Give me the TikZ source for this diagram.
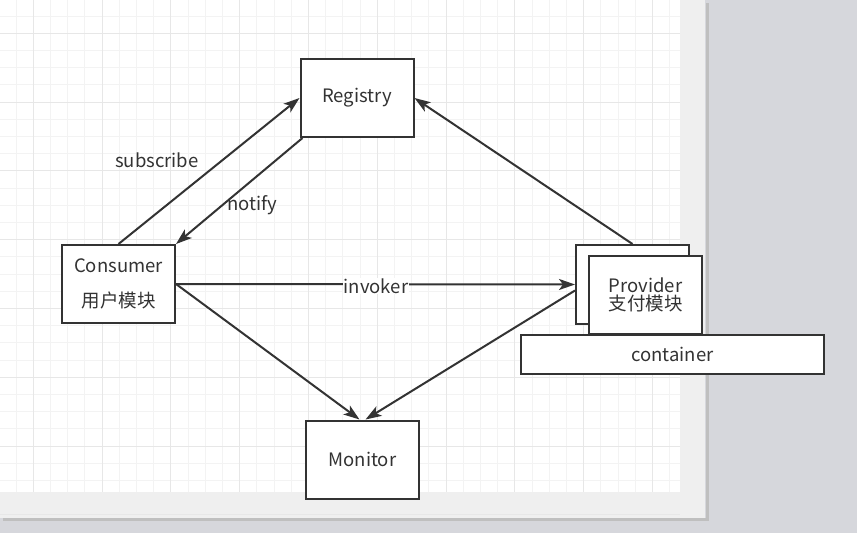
\documentclass[tikz,border=0pt]{standalone}
\usepackage{fontspec}
\setmainfont{Noto Sans CJK SC}
\usetikzlibrary{arrows.meta}

\definecolor{desk}{HTML}{D6D7DC}
\definecolor{rim}{HTML}{EFEFEF}
\definecolor{gridminor}{HTML}{F3F3F3}
\definecolor{gridmajor}{HTML}{E7E7E7}
\definecolor{ink}{HTML}{333333}

\tikzset{
  box/.style={draw=ink, line width=2pt, fill=white, text=ink,
    minimum width=113pt, minimum height=78pt, inner sep=0pt,
    font=\fontsize{18.5}{18}\selectfont, align=center},
  flow/.style={draw=ink, line width=2pt,
    -{Stealth[length=16pt,width=11pt,inset=4pt]}},
  tag/.style={text=ink, font=\fontsize{18.5}{18}\selectfont, inner sep=1pt}
}

\begin{document}
\begin{tikzpicture}[x=1pt,y=-1pt]
		\useasboundingbox (0,0) rectangle (857,533);
		% desk, page and grid
		\fill[desk] (0,0) rectangle (857,533);
		\fill[black!25] (706,3) rectangle (709,521);
		\fill[black!25] (3,518) rectangle (709,521);
		\fill[rim] (-5,-5) rectangle (705,518);
		\fill[white] (0,0) rectangle (680,492);
		\foreach \k in {0,...,39} {
			\draw[gridminor, line width=0.7pt] ({-1.2+17.2*\k},0) -- ({-1.2+17.2*\k},492);
		}
		\foreach \k in {0,...,28} {
			\draw[gridminor, line width=0.7pt] (0,{-1.2+17.2*\k}) -- (680,{-1.2+17.2*\k});
		}
		\foreach \k in {0,...,9} {
			\draw[gridmajor, line width=0.7pt] ({33.2+68.8*\k},0) -- ({33.2+68.8*\k},492);
		}
		\foreach \k in {0,...,7} {
			\draw[gridmajor, line width=0.7pt] (0,{33.2+68.8*\k}) -- (680,{33.2+68.8*\k});
		}
		% components
		\node[box] (reg) at (357,98) {Registry};
		\node[box] (con) at (118.5,284) {Consumer\\[17pt]用户模块};
		\node[box] (mon) at (362.5,459.5) {Monitor};
		\node[box, minimum height=79pt] (provback) at (632.5,284.5) {};
		\node[box] (prov) at (645.5,295) {Provider\\[0pt]支付模块};
		\node[box, minimum width=303pt, minimum height=39pt] (cont) at (672.5,354.5) {container};
		% calls
		\draw[flow] (con.north) -- (reg.west);
		\draw[flow] ([xshift=3pt]reg.south west) -- (con.north east);
		\draw[flow] (provback.north) -- (reg.east);
		\draw[flow] (con.east) -- (provback.west);
		\draw[flow] (con.east) -- ([xshift=-3pt]mon.north);
		\draw[flow] ([yshift=-6pt]provback.west) -- ([xshift=3pt]mon.north);
		\node[tag, fill=white] (inv) at (376,286) {invoker};
		\node[tag] (sub) at (157,160) {subscribe};
		\node[tag] (nfy) at (252,205) {notify};
\end{tikzpicture}
\end{document}
